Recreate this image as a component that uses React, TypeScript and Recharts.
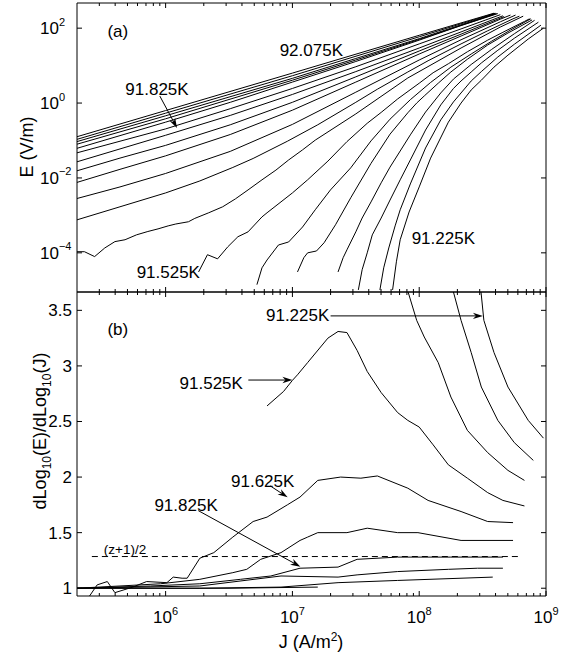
import { LineChart, Line, XAxis, YAxis, ReferenceLine, ReferenceDot } from "recharts"

const FONT = "'Liberation Sans', Arial, Helvetica, sans-serif"

// ---- axes ----
const jDomain = [2e5, 1e9]
const jMajorTicks = [1e6, 1e7, 1e8, 1e9]
const jMajorLabels = ["6", "7", "8", "9"]
const jMinorTicks = [
    3e5, 4e5, 5e5, 6e5, 7e5, 8e5, 9e5,
    2e6, 3e6, 4e6, 5e6, 6e6, 7e6, 8e6, 9e6,
    2e7, 3e7, 4e7, 5e7, 6e7, 7e7, 8e7, 9e7,
    2e8, 3e8, 4e8, 5e8, 6e8, 7e8, 8e8, 9e8,
]
const jTicks = [...jMinorTicks, ...jMajorTicks].sort((a, b) => a - b)

const eDomain = [9e-6, 470]
const eTicks = [1e-4, 1e-2, 1, 1e2]
const eTickLabels = ["\u22124", "\u22122", "0", "2"]

const dDomain = [0.93, 3.665]
const dTicks = [1, 1.5, 2, 2.5, 3, 3.5]
const dTickLabels = ["1", "1.5", "2", "2.5", "3", "3.5"]

// ---- panel (a): [log10 J, log10 E] ----
const e92125 = [[5.30, -0.90], [6.00, -0.20], [7.00, 0.80], [8.00, 1.81], [8.59, 2.40]]
const e92075 = [[5.30, -0.97], [6.00, -0.27], [7.00, 0.73], [8.00, 1.77], [8.60, 2.40]]
const e92025 = [[5.30, -1.03], [6.00, -0.34], [7.00, 0.66], [7.50, 1.19], [8.00, 1.72], [8.60, 2.39]]
const e91975 = [[5.30, -1.10], [6.00, -0.42], [7.00, 0.61], [7.50, 1.15], [8.00, 1.70], [8.61, 2.39]]
const e91925 = [[5.30, -1.21], [6.00, -0.51], [6.51, 0.02], [7.00, 0.56], [7.50, 1.11], [8.00, 1.68], [8.33, 2.07], [8.62, 2.39]]
const e91875 = [[5.30, -1.33], [6.00, -0.69], [6.51, -0.15], [7.00, 0.39], [7.50, 0.97], [8.00, 1.58], [8.33, 1.98], [8.64, 2.36]]
const e91825 = [[5.30, -1.57], [6.00, -0.86], [6.51, -0.33], [7.00, 0.23], [7.50, 0.84], [8.00, 1.47], [8.33, 1.90], [8.66, 2.33]]
const e91775 = [[5.30, -1.81], [5.64, -1.47], [6.00, -1.13], [6.51, -0.58], [7.00, 0.02], [7.50, 0.70], [8.00, 1.39], [8.33, 1.84], [8.67, 2.31]]
const e91725 = [[5.30, -2.12], [5.64, -1.77], [6.00, -1.41], [6.51, -0.84], [7.00, -0.19], [7.50, 0.56], [8.00, 1.31], [8.33, 1.79], [8.64, 2.24], [8.72, 2.35]]
const e91675 = [[5.30, -2.55], [5.64, -2.24], [6.00, -1.88], [6.51, -1.29], [7.00, -0.57], [7.50, 0.29], [8.00, 1.15], [8.33, 1.69], [8.64, 2.17], [8.76, 2.35]]
const e91625 = [[5.30, -3.12], [5.64, -2.77], [6.00, -2.40], [6.27, -2.08], [6.53, -1.72], [6.69, -1.48], [6.96, -1.02], [7.20, -0.58], [7.50, 0.02], [7.67, 0.37], [7.91, 0.83], [8.07, 1.13], [8.33, 1.58], [8.54, 1.93], [8.74, 2.25], [8.79, 2.32]]
const e91575 = [[5.30, -3.97], [5.36, -3.97], [5.44, -4.10], [5.52, -3.87], [5.60, -3.70], [5.68, -3.65], [5.77, -3.52], [5.86, -3.43], [5.94, -3.36], [6.02, -3.28], [6.08, -3.23], [6.18, -3.17], [6.23, -3.08], [6.34, -2.93], [6.45, -2.77], [6.55, -2.56], [6.65, -2.32], [6.76, -2.05], [6.87, -1.79], [6.97, -1.52], [7.08, -1.25], [7.18, -0.99], [7.50, -0.29], [7.91, 0.67], [8.33, 1.47], [8.64, 2.03], [8.82, 2.32]]
const e91525 = [[6.26, -4.51], [6.33, -4.05], [6.41, -4.16], [6.49, -3.84], [6.57, -3.57], [6.65, -3.44], [6.76, -3.04], [6.80, -2.93], [7.00, -2.40], [7.12, -2.05], [7.28, -1.55], [7.43, -1.03], [7.59, -0.54], [7.70, -0.25], [7.83, 0.11], [8.00, 0.53], [8.11, 0.81], [8.23, 1.05], [8.38, 1.37], [8.54, 1.68], [8.66, 1.89], [8.83, 2.18], [8.87, 2.25]]
const e91475 = [[6.72, -4.85], [6.76, -4.40], [6.80, -4.19], [6.89, -3.79], [6.97, -3.71], [7.08, -3.31], [7.18, -2.85], [7.30, -2.32], [7.46, -1.73], [7.62, -1.01], [7.77, -0.43], [7.93, 0.09], [8.09, 0.55], [8.25, 0.96], [8.41, 1.31], [8.57, 1.65], [8.72, 1.95], [8.88, 2.25]]
const e91425 = [[7.04, -4.51], [7.09, -4.13], [7.12, -4.00], [7.19, -3.95], [7.25, -3.73], [7.34, -3.25], [7.46, -2.53], [7.62, -1.61], [7.77, -0.83], [7.91, -0.26], [7.98, 0.00], [8.04, 0.19], [8.15, 0.53], [8.25, 0.83], [8.38, 1.17], [8.54, 1.55], [8.70, 1.87], [8.89, 2.22]]
const e91375 = [[7.36, -4.51], [7.40, -4.13], [7.43, -3.92], [7.50, -3.44], [7.55, -3.07], [7.62, -2.64], [7.70, -2.13], [7.77, -1.71], [7.85, -1.28], [7.93, -0.85], [8.05, -0.24], [8.17, 0.27], [8.27, 0.64], [8.41, 1.03], [8.57, 1.43], [8.75, 1.85], [8.91, 2.21]]
const e91325 = [[7.52, -4.99], [7.55, -4.45], [7.59, -4.00], [7.63, -3.52], [7.70, -3.07], [7.77, -2.59], [7.85, -2.05], [7.93, -1.52], [8.05, -0.72], [8.17, -0.05], [8.27, 0.39], [8.33, 0.59], [8.41, 0.83], [8.49, 1.07], [8.62, 1.41], [8.75, 1.73], [8.94, 2.16]]
const e91275 = [[7.69, -4.99], [7.72, -4.40], [7.76, -3.87], [7.81, -3.28], [7.85, -2.85], [7.93, -2.16], [8.05, -1.20], [8.17, -0.45], [8.27, 0.03], [8.41, 0.59], [8.49, 0.84], [8.62, 1.23], [8.75, 1.57], [8.96, 2.08]]
const e91225 = [[7.79, -4.99], [7.82, -4.24], [7.85, -3.65], [7.92, -2.91], [8.00, -2.24], [8.09, -1.47], [8.23, -0.51], [8.33, 0.00], [8.41, 0.35], [8.49, 0.61], [8.59, 0.96], [8.70, 1.28], [8.86, 1.71], [8.98, 2.00]]

// ---- panel (b): [log10 J, dLog10(E)/dLog10(J)] ----
const d92125 = [[5.30, 1.00], [6.50, 1.00], [7.20, 1.01]]
const d92025 = [[5.30, 1.00], [6.27, 1.00], [6.91, 1.01], [7.36, 1.05], [7.83, 1.07], [8.58, 1.10]]
const d91925 = [[5.30, 1.00], [6.27, 1.02], [6.91, 1.11], [7.36, 1.10], [7.51, 1.12], [7.83, 1.15], [8.23, 1.17], [8.46, 1.18], [8.66, 1.18]]
const d91825 = [[5.30, 1.00], [5.88, 1.02], [6.27, 1.04], [6.59, 1.08], [6.83, 1.11], [7.06, 1.18], [7.36, 1.19], [7.51, 1.26], [7.83, 1.28], [8.25, 1.28], [8.66, 1.28]]
const d91725 = [[5.30, 1.00], [5.64, 1.02], [5.96, 1.04], [6.27, 1.08], [6.53, 1.14], [6.64, 1.17], [6.75, 1.26], [6.91, 1.32], [7.06, 1.43], [7.12, 1.46], [7.20, 1.50], [7.43, 1.50], [7.59, 1.54], [7.83, 1.50], [7.99, 1.50], [8.33, 1.43], [8.74, 1.43]]
const d91625 = [[5.40, 0.93], [5.46, 1.03], [5.54, 1.06], [5.60, 0.96], [5.74, 1.01], [5.85, 1.06], [6.01, 1.05], [6.06, 1.10], [6.13, 1.09], [6.17, 1.09], [6.27, 1.27], [6.38, 1.32], [6.53, 1.46], [6.69, 1.60], [6.80, 1.64], [6.96, 1.75], [7.06, 1.82], [7.20, 1.97], [7.38, 2.00], [7.54, 1.99], [7.67, 2.01], [7.91, 1.90], [8.07, 1.79], [8.33, 1.69], [8.54, 1.60], [8.74, 1.59]]
const d91525 = [[6.80, 2.64], [6.93, 2.77], [7.00, 2.87], [7.04, 2.92], [7.12, 3.03], [7.28, 3.25], [7.36, 3.31], [7.43, 3.30], [7.51, 3.14], [7.59, 2.95], [7.70, 2.76], [7.83, 2.58], [7.91, 2.51], [8.00, 2.45], [8.11, 2.29], [8.23, 2.11], [8.38, 1.99], [8.54, 1.86], [8.66, 1.79], [8.83, 1.74]]
const d91425 = [[7.89, 3.75], [7.98, 3.41], [8.04, 3.26], [8.15, 3.03], [8.25, 2.72], [8.38, 2.42], [8.54, 2.22], [8.70, 2.06], [8.83, 1.97]]
const d91325 = [[8.25, 3.75], [8.33, 3.41], [8.41, 3.12], [8.49, 2.81], [8.62, 2.51], [8.75, 2.31], [8.90, 2.15]]
const d91225 = [[8.48, 3.75], [8.51, 3.41], [8.59, 3.12], [8.70, 2.81], [8.86, 2.51], [8.98, 2.35]]

const zLevel = 1.285 // (z+1)/2

const curvesA = [
    { t: "92.125K", pts: e92125 }, { t: "92.075K", pts: e92075 }, { t: "92.025K", pts: e92025 },
    { t: "91.975K", pts: e91975 }, { t: "91.925K", pts: e91925 }, { t: "91.875K", pts: e91875 },
    { t: "91.825K", pts: e91825 }, { t: "91.775K", pts: e91775 }, { t: "91.725K", pts: e91725 },
    { t: "91.675K", pts: e91675 }, { t: "91.625K", pts: e91625 }, { t: "91.575K", pts: e91575 },
    { t: "91.525K", pts: e91525 }, { t: "91.475K", pts: e91475 }, { t: "91.425K", pts: e91425 },
    { t: "91.375K", pts: e91375 }, { t: "91.325K", pts: e91325 }, { t: "91.275K", pts: e91275 },
    { t: "91.225K", pts: e91225 },
]
const curvesB = [
    { t: "92.125K", pts: d92125 }, { t: "92.025K", pts: d92025 }, { t: "91.925K", pts: d91925 },
    { t: "91.825K", pts: d91825 }, { t: "91.725K", pts: d91725 }, { t: "91.625K", pts: d91625 },
    { t: "91.525K", pts: d91525 }, { t: "91.425K", pts: d91425 }, { t: "91.325K", pts: d91325 },
    { t: "91.225K", pts: d91225 },
]

const toE = (pts: number[][]) => pts.map(([lj, le]) => ({ J: 10 ** lj, E: 10 ** le }))
const toD = (pts: number[][]) => pts.map(([lj, d]) => ({ J: 10 ** lj, D: d }))

// ---- annotations (data coordinates) ----
const labelsA = [
    { text: "(a)", J: 4.2e5, v: 83 },
    { text: "92.075K", J: 1.41e7, v: 25.9 },
    { text: "91.825K", J: 8.55e5, v: 2.36 },
    { text: "91.525K", J: 1.05e6, v: 3.0e-5 },
    { text: "91.225K", J: 1.55e8, v: 2.4e-4 },
]
const arrowsA = [{ from: { x: 9.0e5, y: 1.54 }, to: { x: 1.23e6, y: 0.215 } }]

const labelsB = [
    { text: "(b)", J: 4.2e5, v: 3.33 },
    { text: "91.225K", J: 1.1e7, v: 3.45 },
    { text: "91.525K", J: 2.29e6, v: 2.84 },
    { text: "91.625K", J: 5.83e6, v: 1.956 },
    { text: "91.825K", J: 1.45e6, v: 1.745 },
]
const arrowsB = [
    { from: { x: 2.0e7, y: 3.45 }, to: { x: 3.18e8, y: 3.45 } },
    { from: { x: 4.49e6, y: 2.873 }, to: { x: 1.0e7, y: 2.873 } },
    { from: { x: 6.7e6, y: 1.92 }, to: { x: 9.17e6, y: 1.818 } },
    { from: { x: 1.81e6, y: 1.698 }, to: { x: 1.156e7, y: 1.194 } },
]

// ---- tick renderers (MATLAB style: ticks point inwards) ----
const xTick = (side: "top" | "bottom", withLabels: boolean) => (props: any) => {
    const { x, y, payload } = props
    const mi = jMajorTicks.indexOf(payload.value)
    const len = mi >= 0 ? 5 : 3
    const dir = side === "bottom" ? -1 : 1
    return (
        <g>
            <line x1={x} y1={y} x2={x} y2={y + dir * len} stroke="#000" />
            {withLabels && mi >= 0 && (
                <text x={x} y={y + 27} textAnchor="middle" fontSize={17} fontFamily={FONT} fill="#000">
                    10<tspan fontSize={11} dy={-8.5}>{jMajorLabels[mi]}</tspan>
                </text>
            )}
        </g>
    )
}

const yTickE = (side: "left" | "right") => (props: any) => {
    const { x, y, payload } = props
    const i = eTicks.indexOf(payload.value)
    const dir = side === "left" ? 1 : -1
    return (
        <g>
            <line x1={x} y1={y} x2={x + dir * 5} y2={y} stroke="#000" />
            {side === "left" && (
                <text x={x - 37} y={y} dy={6} textAnchor="start" fontSize={17} fontFamily={FONT} fill="#000">
                    10<tspan fontSize={11} dy={-8.5}>{eTickLabels[i]}</tspan>
                </text>
            )}
        </g>
    )
}

const yTickD = (side: "left" | "right") => (props: any) => {
    const { x, y, payload } = props
    const i = dTicks.indexOf(payload.value)
    const dir = side === "left" ? 1 : -1
    return (
        <g>
            <line x1={x} y1={y} x2={x + dir * 5} y2={y} stroke="#000" />
            {side === "left" && (
                <text x={x - 5} y={y} dy={6} textAnchor="end" fontSize={17} fontFamily={FONT} fill="#000">
                    {dTickLabels[i]}
                </text>
            )}
        </g>
    )
}

const arrowShape = (props: any) => {
    const { x1, y1, x2, y2 } = props
    const a = Math.atan2(y2 - y1, x2 - x1)
    const c = Math.cos(a), s = Math.sin(a)
    const L = 10, hw = 3.2
    const bx = x2 - L * c, by = y2 - L * s
    const nx = x2 - 0.7 * L * c, ny = y2 - 0.7 * L * s
    const pts = `${x2},${y2} ${bx - hw * s},${by + hw * c} ${nx},${ny} ${bx + hw * s},${by - hw * c}`
    return (
        <g>
            <line x1={x1} y1={y1} x2={nx} y2={ny} stroke="#000" strokeWidth={1} />
            <polygon points={pts} fill="#000" />
        </g>
    )
}

const textShape = (text: string, size = 17) => (props: any) => (
    <text x={props.cx} y={props.cy} textAnchor="middle" dominantBaseline="central" fontSize={size} fontFamily={FONT} fill="#000">
        {text}
    </text>
)

const axisLine = { stroke: "#000", strokeWidth: 1 }

// axes are 1px thick boxes (a zero size axis is not drawn); margins below compensate
const commonX = {
    dataKey: "J",
    type: "number" as const,
    scale: "log" as const,
    domain: jDomain,
    allowDataOverflow: true,
    ticks: jTicks,
    interval: 0,
    height: 1,
    tickSize: 0,
    tickMargin: 0,
    tickLine: false,
    axisLine,
}
const commonY = {
    type: "number" as const,
    allowDataOverflow: true,
    interval: 0,
    width: 1,
    tickSize: 0,
    tickMargin: 0,
    tickLine: false,
    axisLine,
}

export default function App() {
    return (
        <div style={{ position: "absolute", left: 0, top: 0, width: 572, height: 655, background: "#fff", fontFamily: FONT }}>
            {/* panel (a) */}
            <div style={{ position: "absolute", left: 0, top: 0 }}>
                <LineChart width={572} height={655} margin={{ top: 2, right: 25, bottom: 362, left: 76 }}>
                    <XAxis xAxisId="j" orientation="bottom" {...commonX} tick={xTick("bottom", false)} />
                    <XAxis xAxisId="jt" orientation="top" {...commonX} tick={xTick("top", false)} />
                    <YAxis yAxisId="e" orientation="left" {...commonY} scale="log" domain={eDomain} ticks={eTicks} tick={yTickE("left")} />
                    <YAxis yAxisId="er" orientation="right" {...commonY} scale="log" domain={eDomain} ticks={eTicks} tick={yTickE("right")} />
                    {curvesA.map((c) => (
                        <Line key={c.t} name={c.t} xAxisId="j" yAxisId="e" data={toE(c.pts)} dataKey="E" type="linear"
                            stroke="#000" strokeWidth={1} dot={false} isAnimationActive={false} />
                    ))}
                    {arrowsA.map((a, i) => (
                        <ReferenceLine key={i} xAxisId="j" yAxisId="e" segment={[a.from, a.to]} shape={arrowShape} ifOverflow="visible" />
                    ))}
                    {labelsA.map((l) => (
                        <ReferenceDot key={l.text} xAxisId="j" yAxisId="e" x={l.J} y={l.v} r={0} shape={textShape(l.text)} />
                    ))}
                </LineChart>
            </div>

            {/* panel (b) */}
            <div style={{ position: "absolute", left: 0, top: 0 }}>
                <LineChart width={572} height={655} margin={{ top: 291, right: 25, bottom: 58, left: 76 }}>
                    <XAxis xAxisId="j" orientation="bottom" {...commonX} tick={xTick("bottom", true)} />
                    <XAxis xAxisId="jt" orientation="top" {...commonX} tick={xTick("top", false)} />
                    <YAxis yAxisId="d" orientation="left" {...commonY} domain={dDomain} ticks={dTicks} tick={yTickD("left")} />
                    <YAxis yAxisId="dr" orientation="right" {...commonY} domain={dDomain} ticks={dTicks} tick={yTickD("right")} />
                    <ReferenceLine xAxisId="j" yAxisId="d" segment={[{ x: 2.62e5, y: zLevel }, { x: 6.22e8, y: zLevel }]}
                        stroke="#000" strokeWidth={1} strokeDasharray="6 4" />
                    {curvesB.map((c) => (
                        <Line key={c.t} name={c.t} xAxisId="j" yAxisId="d" data={toD(c.pts)} dataKey="D" type="linear"
                            stroke="#000" strokeWidth={1} dot={false} isAnimationActive={false} />
                    ))}
                    {arrowsB.map((a, i) => (
                        <ReferenceLine key={i} xAxisId="j" yAxisId="d" segment={[a.from, a.to]} shape={arrowShape} ifOverflow="visible" />
                    ))}
                    {labelsB.map((l) => (
                        <ReferenceDot key={l.text} xAxisId="j" yAxisId="d" x={l.J} y={l.v} r={0} shape={textShape(l.text)} />
                    ))}
                    <ReferenceDot xAxisId="j" yAxisId="d" x={4.78e5} y={1.344} r={0} shape={textShape("(z+1)/2", 13.5)} />
                </LineChart>
            </div>

            {/* axis titles */}
            <div style={{ position: "absolute", left: 27, top: 147, transform: "translate(-50%, -50%) rotate(-90deg)", whiteSpace: "nowrap", fontSize: 18 }}>
                E (V/m)
            </div>
            <div style={{ position: "absolute", left: 40, top: 431, transform: "translate(-50%, -50%) rotate(-90deg)", whiteSpace: "nowrap", fontSize: 18 }}>
                dLog<span style={{ fontSize: 12, position: "relative", top: 5 }}>10</span>(E)/dLog<span style={{ fontSize: 12, position: "relative", top: 5 }}>10</span>(J)
            </div>
            <div style={{ position: "absolute", left: 311, top: 642, transform: "translate(-50%, -50%)", whiteSpace: "nowrap", fontSize: 18 }}>
                J (A/m<span style={{ fontSize: 12, position: "relative", top: -7 }}>2</span>)
            </div>
        </div>
    )
}
